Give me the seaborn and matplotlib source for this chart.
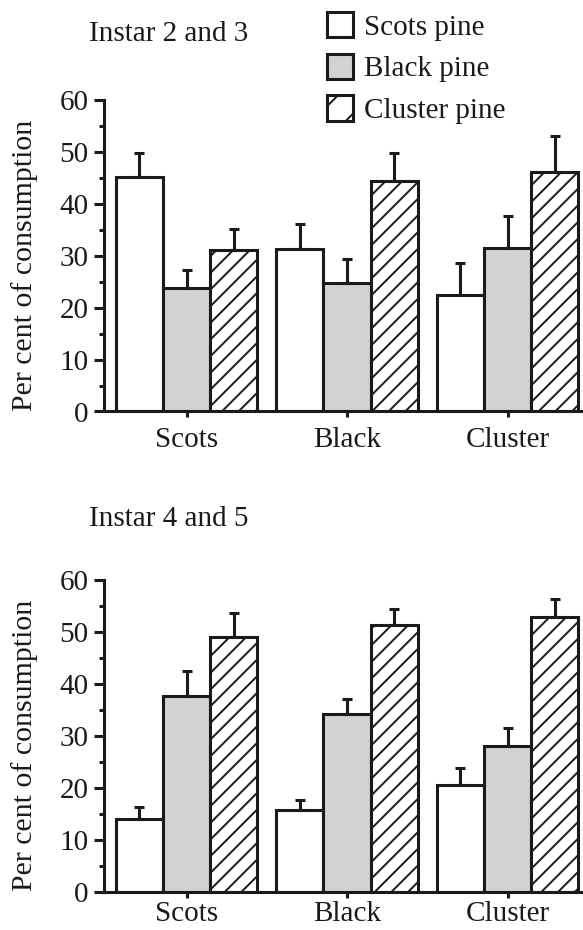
import numpy as np
import pandas as pd
import matplotlib
matplotlib.use("Agg")
import matplotlib.pyplot as plt
import seaborn as sns
from matplotlib.patches import Patch
from matplotlib.ticker import MultipleLocator

# ---------------- data ----------------
diets = ["Scots", "Black", "Cluster"]
pines = ["Scots pine", "Black pine", "Cluster pine"]
panel_titles = ["Instar 2 and 3", "Instar 4 and 5"]
y_label = "Per cent of consumption"
y_ticks = [0, 10, 20, 30, 40, 50, 60]

# Instar 2 and 3 (values per diet group: Scots, Black, Cluster)
top_scots_pine = [45.2, 31.3, 22.5]
top_black_pine = [23.8, 24.8, 31.5]
top_cluster_pine = [31.1, 44.4, 46.2]
top_scots_err = [4.6, 4.8, 6.1]
top_black_err = [3.5, 4.6, 6.2]
top_cluster_err = [4.1, 5.4, 6.9]

# Instar 4 and 5
bot_scots_pine = [14.0, 15.7, 20.5]
bot_black_pine = [37.7, 34.1, 28.0]
bot_cluster_pine = [49.0, 51.4, 52.8]
bot_scots_err = [2.2, 2.0, 3.3]
bot_black_err = [4.8, 2.9, 3.4]
bot_cluster_err = [4.6, 3.1, 3.5]

# ---------------- style ----------------
sns.set_style("ticks")
plt.rcParams["font.family"] = ["Liberation Serif", "DejaVu Serif"]
plt.rcParams.update({
    "text.color": "#1a1a1a", "axes.labelcolor": "#1a1a1a",
    "xtick.color": "#1a1a1a", "ytick.color": "#1a1a1a",
    "axes.edgecolor": "#1a1a1a", "hatch.color": "#1a1a1a",
    "hatch.linewidth": 1.4,
})
FS = 21
LW = 2.2
EDGE = "#1a1a1a"
GRAY = "#d2d2d2"
fills = ["white", GRAY, "white"]
hatches = ["", "", "//"]


def make_df(vals, errs):
    rows = []
    for p, v_list, e_list in zip(pines, vals, errs):
        for d, v, e in zip(diets, v_list, e_list):
            rows.append({"diet": d, "pine": p, "value": v, "err": e})
    return pd.DataFrame(rows)


df_top = make_df([top_scots_pine, top_black_pine, top_cluster_pine],
                 [top_scots_err, top_black_err, top_cluster_err])
df_bot = make_df([bot_scots_pine, bot_black_pine, bot_cluster_pine],
                 [bot_scots_err, bot_black_err, bot_cluster_err])

W, H = 583, 930
fig = plt.figure(figsize=(W / 100, H / 100), dpi=100)

ax_left = 104 / W
ax_w = 1 - ax_left
ax_h = (411.5 - 100) / H
ax_top = fig.add_axes([ax_left, 1 - 411.5 / H, ax_w, ax_h])
ax_bot = fig.add_axes([ax_left, 1 - 891.5 / H, ax_w, ax_h])


def draw(ax, df, xpad):
    sns.barplot(data=df, x="diet", y="value", hue="pine", order=diets,
                hue_order=pines, palette=fills, width=0.88, gap=0,
                edgecolor=EDGE, linewidth=LW, errorbar=None, legend=False,
                saturation=1, ax=ax)
    bar_conts = list(ax.containers)
    for i, cont in enumerate(bar_conts):
        sub = df[df["pine"] == pines[i]].set_index("diet").loc[diets]
        xs, ys = [], []
        for patch in cont.patches:
            patch.set_hatch(hatches[i])
            patch.set_edgecolor(EDGE)
            xs.append(patch.get_x() + patch.get_width() / 2)
            ys.append(patch.get_height())
        errs = sub["err"].to_numpy()
        ax.errorbar(xs, ys, yerr=[np.zeros_like(errs), errs], fmt="none",
                    ecolor=EDGE, elinewidth=LW, capsize=3.6, capthick=LW,
                    zorder=1.5)
    ax.set_ylim(0, 60)
    ax.set_xlim(-0.514, 2.47)
    ax.set_yticks(y_ticks)
    ax.yaxis.set_minor_locator(MultipleLocator(5))
    ax.set_xlabel("")
    ax.set_ylabel("")
    sns.despine(ax=ax)
    for s in ["left", "bottom"]:
        ax.spines[s].set_linewidth(LW)
        ax.spines[s].set_color(EDGE)
    ax.tick_params(axis="y", which="major", length=7, width=LW,
                   labelsize=FS, pad=4, color=EDGE)
    ax.tick_params(axis="y", which="minor", length=3.6, width=LW, color=EDGE)
    ax.tick_params(axis="x", which="major", length=4, width=LW,
                   labelsize=FS, pad=xpad, color=EDGE)


draw(ax_top, df_top, 7.5)
draw(ax_bot, df_bot, 2.5)

# y labels
for ax in (ax_top, ax_bot):
    pos = ax.get_position()
    fig.text(25 / W, pos.y0 + pos.height / 2 - 10 / H, y_label, rotation=90,
             ha="center", va="center", fontsize=21.5)

# panel titles
fig.text(89 / W, 1 - 34 / H, panel_titles[0], ha="left", va="center", fontsize=FS)
fig.text(89 / W, 1 - 519 / H, panel_titles[1], ha="left", va="center", fontsize=FS)

# legend
handles = [Patch(facecolor=fills[i], edgecolor=EDGE, linewidth=LW,
                 hatch=("/" if hatches[i] else ""), label=pines[i]) for i in range(3)]
fig.legend(handles=handles, loc="upper left", bbox_to_anchor=(327 / W, 1 - 12 / H),
           frameon=False, fontsize=FS, handlelength=0.88, handleheight=0.95,
           handletextpad=0.4, labelspacing=0.45, borderpad=0, borderaxespad=0)

fig.savefig("out.png", dpi=100)
